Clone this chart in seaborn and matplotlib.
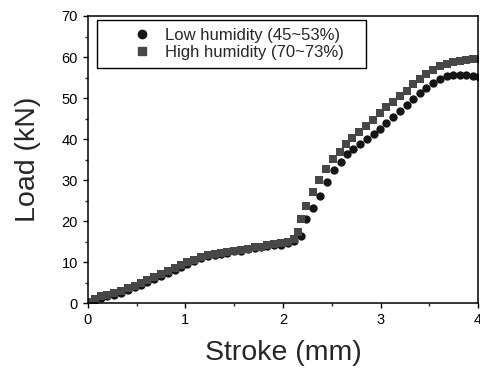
import numpy as np
import pandas as pd
import matplotlib
matplotlib.use("Agg")
import matplotlib.pyplot as plt
import seaborn as sns
from matplotlib.ticker import MultipleLocator
from matplotlib.patches import Rectangle

# Load–stroke curves for two humidity conditions
stroke_high = [0.00, 0.07, 0.14, 0.20, 0.27, 0.34, 0.41, 0.48, 0.55, 0.61,
               0.68, 0.75, 0.82, 0.89, 0.96, 1.02, 1.09, 1.16, 1.23, 1.30,
               1.36, 1.43, 1.50, 1.57, 1.64, 1.71, 1.77, 1.84, 1.91, 1.98,
               2.05, 2.11, 2.15, 2.18, 2.24, 2.31, 2.37, 2.44, 2.51, 2.58,
               2.65, 2.71, 2.78, 2.85, 2.92, 2.99, 3.06, 3.13, 3.20, 3.27,
               3.33, 3.40, 3.47, 3.54, 3.61, 3.68, 3.74, 3.81, 3.88, 3.95, 4.01]
load_high = [0.2, 1.0, 1.7, 2.1, 2.5, 3.0, 3.6, 4.3, 4.9, 5.6,
             6.3, 7.0, 7.8, 8.6, 9.3, 10.0, 10.6, 11.2, 11.7, 12.0,
             12.2, 12.5, 12.8, 13.0, 13.3, 13.6, 13.8, 14.1, 14.4, 14.6,
             14.9, 15.6, 17.3, 20.4, 23.7, 27.0, 30.1, 32.8, 35.2, 36.9,
             38.7, 40.3, 41.7, 43.2, 44.6, 46.3, 47.7, 49.0, 50.5, 51.7,
             53.4, 54.6, 55.8, 56.9, 57.7, 58.3, 58.7, 59.0, 59.3, 59.4, 59.5]

stroke_low = [0.00, 0.07, 0.14, 0.20, 0.27, 0.34, 0.41, 0.48, 0.55, 0.61,
              0.68, 0.75, 0.82, 0.89, 0.96, 1.02, 1.09, 1.16, 1.23, 1.30,
              1.36, 1.43, 1.50, 1.57, 1.64, 1.71, 1.77, 1.84, 1.91, 1.98,
              2.05, 2.11, 2.18, 2.24, 2.31, 2.38, 2.45, 2.52, 2.59, 2.66,
              2.72, 2.79, 2.86, 2.93, 2.99, 3.06, 3.13, 3.20, 3.27, 3.33,
              3.40, 3.47, 3.54, 3.61, 3.68, 3.74, 3.81, 3.88, 3.95, 4.01]
load_low = [0.0, 0.7, 1.3, 1.7, 2.1, 2.6, 3.2, 3.9, 4.5, 5.2,
            5.9, 6.6, 7.4, 8.2, 8.9, 9.6, 10.3, 10.9, 11.4, 11.7,
            12.0, 12.3, 12.6, 12.8, 13.1, 13.4, 13.6, 13.9, 14.1, 14.3,
            14.6, 15.1, 16.3, 20.4, 23.2, 26.2, 29.5, 32.4, 34.5, 36.3,
            37.5, 38.7, 40.1, 41.2, 42.5, 43.9, 45.4, 46.8, 48.2, 49.7,
            51.2, 52.5, 53.6, 54.6, 55.3, 55.6, 55.6, 55.6, 55.4, 55.2]

label_low = "Low humidity (45~53%)"
label_high = "High humidity (70~73%)"
color_low = "#151515"
color_high = "#474747"

df_low = pd.DataFrame({"Stroke": stroke_low, "Load": load_low})
df_high = pd.DataFrame({"Stroke": stroke_high, "Load": load_high})

sns.set_theme(style="ticks")
plt.rcParams["font.family"] = ["Liberation Sans", "DejaVu Sans"]

fig = plt.figure(figsize=(4.8, 3.72), dpi=100)
ax = fig.add_axes([0.183, 0.185, 0.813, 0.772])

sns.scatterplot(data=df_low, x="Stroke", y="Load", color=color_low, marker="o",
                s=36, linewidth=0, ax=ax, legend=False)
sns.scatterplot(data=df_high, x="Stroke", y="Load", color=color_high, marker="s",
                s=40, linewidth=0, ax=ax, legend=False)

ax.set_xlim(0, 4)
ax.set_ylim(0, 70)
ax.xaxis.set_major_locator(MultipleLocator(1))
ax.xaxis.set_minor_locator(MultipleLocator(0.5))
ax.yaxis.set_major_locator(MultipleLocator(10))
ax.yaxis.set_minor_locator(MultipleLocator(5))
ax.tick_params(which="major", direction="out", length=3.6, width=1, labelsize=10.5,
               colors="black", pad=3.5)
ax.tick_params(which="minor", direction="out", length=2.2, width=1)
for sp in ax.spines.values():
    sp.set_visible(True)
    sp.set_linewidth(1.1)
    sp.set_color("black")

ax.set_xlabel("Stroke (mm)", fontsize=20.5, labelpad=9)
ax.set_ylabel("Load (kN)", fontsize=20.5, labelpad=15)

h_low = plt.Line2D([], [], marker="o", ls="", color=color_low, markersize=6)
h_high = plt.Line2D([], [], marker="s", ls="", color=color_high, markersize=6)
leg = fig.legend([h_low, h_high], [label_low, label_high], loc="center left",
                 bbox_to_anchor=(117 / 480, 1 - 44 / 372), fontsize=12,
                 frameon=False, borderpad=0, handletextpad=0.4,
                 labelspacing=0.1, handlelength=2)

# legend frame
fig.patches.append(Rectangle((97 / 480, 1 - 68 / 372), 269 / 480, 48 / 372,
                             transform=fig.transFigure, fill=False,
                             edgecolor="black", linewidth=1.0, zorder=5))

fig.savefig("out.png", dpi=100)
